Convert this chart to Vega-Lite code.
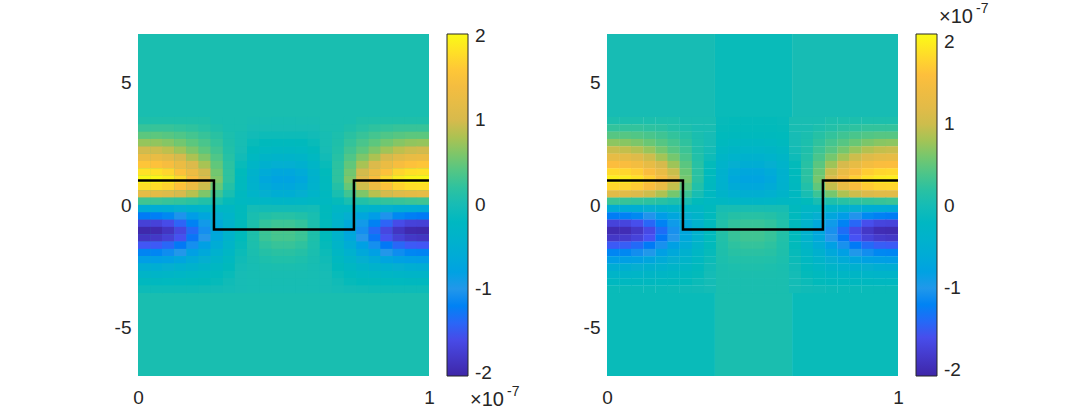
{"$schema":"https://vega.github.io/schema/vega-lite/v6.json","padding":{"left":114,"top":2,"right":0,"bottom":0},"background":"white","spacing":178,"bounds":"flush","resolve":{"scale":{"color":"independent"}},"config":{"view":{"stroke":null},"axis":{"labelFont":"Liberation Sans","labelFontSize":19,"labelColor":"#262626","grid":false,"domain":false,"ticks":false,"title":null,"labelFlush":false},"legend":{"labelFont":"Liberation Sans","labelFontSize":19,"labelColor":"#262626"},"text":{"font":"Liberation Sans","color":"#262626"}},"datasets":{"field":[
{"x":0.021,"y":3.45,"v":0.1},{"x":0.063,"y":3.45,"v":0.1},{"x":0.104,"y":3.45,"v":0.1},{"x":0.146,"y":3.45,"v":0.1},{"x":0.188,"y":3.45,"v":0.1},{"x":0.229,"y":3.45,"v":0.1},{"x":0.271,"y":3.45,"v":0.05},{"x":0.313,"y":3.45,"v":0.05},{"x":0.354,"y":3.45,"v":0.05},{"x":0.396,"y":3.45,"v":0.03},{"x":0.438,"y":3.45,"v":0.03},{"x":0.479,"y":3.45,"v":0.02},{"x":0.521,"y":3.45,"v":0.02},{"x":0.563,"y":3.45,"v":0.03},{"x":0.604,"y":3.45,"v":0.03},{"x":0.646,"y":3.45,"v":0.05},{"x":0.688,"y":3.45,"v":0.05},{"x":0.729,"y":3.45,"v":0.05},{"x":0.771,"y":3.45,"v":0.1},{"x":0.813,"y":3.45,"v":0.1},{"x":0.854,"y":3.45,"v":0.1},{"x":0.896,"y":3.45,"v":0.1},{"x":0.938,"y":3.45,"v":0.1},{"x":0.979,"y":3.45,"v":0.1},
{"x":0.021,"y":3.15,"v":0.25},{"x":0.063,"y":3.15,"v":0.25},{"x":0.104,"y":3.15,"v":0.25},{"x":0.146,"y":3.15,"v":0.22},{"x":0.188,"y":3.15,"v":0.2},{"x":0.229,"y":3.15,"v":0.15},{"x":0.271,"y":3.15,"v":0.1},{"x":0.313,"y":3.15,"v":0.05},{"x":0.354,"y":3.15,"v":0.05},{"x":0.396,"y":3.15,"v":0},{"x":0.438,"y":3.15,"v":0},{"x":0.479,"y":3.15,"v":0},{"x":0.521,"y":3.15,"v":0},{"x":0.563,"y":3.15,"v":0},{"x":0.604,"y":3.15,"v":0},{"x":0.646,"y":3.15,"v":0.05},{"x":0.688,"y":3.15,"v":0.05},{"x":0.729,"y":3.15,"v":0.1},{"x":0.771,"y":3.15,"v":0.15},{"x":0.813,"y":3.15,"v":0.2},{"x":0.854,"y":3.15,"v":0.22},{"x":0.896,"y":3.15,"v":0.25},{"x":0.938,"y":3.15,"v":0.25},{"x":0.979,"y":3.15,"v":0.25},
{"x":0.021,"y":2.85,"v":0.45},{"x":0.063,"y":2.85,"v":0.45},{"x":0.104,"y":2.85,"v":0.42},{"x":0.146,"y":2.85,"v":0.38},{"x":0.188,"y":2.85,"v":0.32},{"x":0.229,"y":2.85,"v":0.25},{"x":0.271,"y":2.85,"v":0.17},{"x":0.313,"y":2.85,"v":0.08},{"x":0.354,"y":2.85,"v":0.02},{"x":0.396,"y":2.85,"v":-0.03},{"x":0.438,"y":2.85,"v":-0.05},{"x":0.479,"y":2.85,"v":-0.05},{"x":0.521,"y":2.85,"v":-0.05},{"x":0.563,"y":2.85,"v":-0.05},{"x":0.604,"y":2.85,"v":-0.03},{"x":0.646,"y":2.85,"v":0.02},{"x":0.688,"y":2.85,"v":0.08},{"x":0.729,"y":2.85,"v":0.17},{"x":0.771,"y":2.85,"v":0.25},{"x":0.813,"y":2.85,"v":0.32},{"x":0.854,"y":2.85,"v":0.38},{"x":0.896,"y":2.85,"v":0.42},{"x":0.938,"y":2.85,"v":0.45},{"x":0.979,"y":2.85,"v":0.45},
{"x":0.021,"y":2.55,"v":0.7},{"x":0.063,"y":2.55,"v":0.68},{"x":0.104,"y":2.55,"v":0.63},{"x":0.146,"y":2.55,"v":0.55},{"x":0.188,"y":2.55,"v":0.45},{"x":0.229,"y":2.55,"v":0.35},{"x":0.271,"y":2.55,"v":0.23},{"x":0.313,"y":2.55,"v":0.1},{"x":0.354,"y":2.55,"v":0.02},{"x":0.396,"y":2.55,"v":-0.07},{"x":0.438,"y":2.55,"v":-0.12},{"x":0.479,"y":2.55,"v":-0.13},{"x":0.521,"y":2.55,"v":-0.13},{"x":0.563,"y":2.55,"v":-0.12},{"x":0.604,"y":2.55,"v":-0.07},{"x":0.646,"y":2.55,"v":0.02},{"x":0.688,"y":2.55,"v":0.1},{"x":0.729,"y":2.55,"v":0.23},{"x":0.771,"y":2.55,"v":0.35},{"x":0.813,"y":2.55,"v":0.45},{"x":0.854,"y":2.55,"v":0.55},{"x":0.896,"y":2.55,"v":0.63},{"x":0.938,"y":2.55,"v":0.68},{"x":0.979,"y":2.55,"v":0.7},
{"x":0.021,"y":2.25,"v":0.98},{"x":0.063,"y":2.25,"v":0.95},{"x":0.104,"y":2.25,"v":0.88},{"x":0.146,"y":2.25,"v":0.75},{"x":0.188,"y":2.25,"v":0.6},{"x":0.229,"y":2.25,"v":0.45},{"x":0.271,"y":2.25,"v":0.3},{"x":0.313,"y":2.25,"v":0.12},{"x":0.354,"y":2.25,"v":0},{"x":0.396,"y":2.25,"v":-0.12},{"x":0.438,"y":2.25,"v":-0.2},{"x":0.479,"y":2.25,"v":-0.22},{"x":0.521,"y":2.25,"v":-0.22},{"x":0.563,"y":2.25,"v":-0.2},{"x":0.604,"y":2.25,"v":-0.12},{"x":0.646,"y":2.25,"v":0},{"x":0.688,"y":2.25,"v":0.12},{"x":0.729,"y":2.25,"v":0.3},{"x":0.771,"y":2.25,"v":0.45},{"x":0.813,"y":2.25,"v":0.6},{"x":0.854,"y":2.25,"v":0.75},{"x":0.896,"y":2.25,"v":0.88},{"x":0.938,"y":2.25,"v":0.95},{"x":0.979,"y":2.25,"v":0.98},
{"x":0.021,"y":1.95,"v":1.28},{"x":0.063,"y":1.95,"v":1.25},{"x":0.104,"y":1.95,"v":1.15},{"x":0.146,"y":1.95,"v":1},{"x":0.188,"y":1.95,"v":0.8},{"x":0.229,"y":1.95,"v":0.6},{"x":0.271,"y":1.95,"v":0.38},{"x":0.313,"y":1.95,"v":0.15},{"x":0.354,"y":1.95,"v":-0.03},{"x":0.396,"y":1.95,"v":-0.2},{"x":0.438,"y":1.95,"v":-0.32},{"x":0.479,"y":1.95,"v":-0.36},{"x":0.521,"y":1.95,"v":-0.36},{"x":0.563,"y":1.95,"v":-0.32},{"x":0.604,"y":1.95,"v":-0.2},{"x":0.646,"y":1.95,"v":-0.03},{"x":0.688,"y":1.95,"v":0.15},{"x":0.729,"y":1.95,"v":0.38},{"x":0.771,"y":1.95,"v":0.6},{"x":0.813,"y":1.95,"v":0.8},{"x":0.854,"y":1.95,"v":1},{"x":0.896,"y":1.95,"v":1.15},{"x":0.938,"y":1.95,"v":1.25},{"x":0.979,"y":1.95,"v":1.28},
{"x":0.021,"y":1.65,"v":1.58},{"x":0.063,"y":1.65,"v":1.55},{"x":0.104,"y":1.65,"v":1.45},{"x":0.146,"y":1.65,"v":1.28},{"x":0.188,"y":1.65,"v":1.05},{"x":0.229,"y":1.65,"v":0.78},{"x":0.271,"y":1.65,"v":0.47},{"x":0.313,"y":1.65,"v":0.18},{"x":0.354,"y":1.65,"v":-0.07},{"x":0.396,"y":1.65,"v":-0.3},{"x":0.438,"y":1.65,"v":-0.47},{"x":0.479,"y":1.65,"v":-0.52},{"x":0.521,"y":1.65,"v":-0.52},{"x":0.563,"y":1.65,"v":-0.47},{"x":0.604,"y":1.65,"v":-0.3},{"x":0.646,"y":1.65,"v":-0.07},{"x":0.688,"y":1.65,"v":0.18},{"x":0.729,"y":1.65,"v":0.47},{"x":0.771,"y":1.65,"v":0.78},{"x":0.813,"y":1.65,"v":1.05},{"x":0.854,"y":1.65,"v":1.28},{"x":0.896,"y":1.65,"v":1.45},{"x":0.938,"y":1.65,"v":1.55},{"x":0.979,"y":1.65,"v":1.58},
{"x":0.021,"y":1.35,"v":1.82},{"x":0.063,"y":1.35,"v":1.8},{"x":0.104,"y":1.35,"v":1.72},{"x":0.146,"y":1.35,"v":1.55},{"x":0.188,"y":1.35,"v":1.3},{"x":0.229,"y":1.35,"v":0.98},{"x":0.271,"y":1.35,"v":0.55},{"x":0.313,"y":1.35,"v":0.2},{"x":0.354,"y":1.35,"v":-0.1},{"x":0.396,"y":1.35,"v":-0.4},{"x":0.438,"y":1.35,"v":-0.62},{"x":0.479,"y":1.35,"v":-0.7},{"x":0.521,"y":1.35,"v":-0.7},{"x":0.563,"y":1.35,"v":-0.62},{"x":0.604,"y":1.35,"v":-0.4},{"x":0.646,"y":1.35,"v":-0.1},{"x":0.688,"y":1.35,"v":0.2},{"x":0.729,"y":1.35,"v":0.55},{"x":0.771,"y":1.35,"v":0.98},{"x":0.813,"y":1.35,"v":1.3},{"x":0.854,"y":1.35,"v":1.55},{"x":0.896,"y":1.35,"v":1.72},{"x":0.938,"y":1.35,"v":1.8},{"x":0.979,"y":1.35,"v":1.82},
{"x":0.021,"y":1.05,"v":2},{"x":0.063,"y":1.05,"v":1.98},{"x":0.104,"y":1.05,"v":1.9},{"x":0.146,"y":1.05,"v":1.75},{"x":0.188,"y":1.05,"v":1.5},{"x":0.229,"y":1.05,"v":1.12},{"x":0.271,"y":1.05,"v":0.6},{"x":0.313,"y":1.05,"v":0.2},{"x":0.354,"y":1.05,"v":-0.14},{"x":0.396,"y":1.05,"v":-0.45},{"x":0.438,"y":1.05,"v":-0.7},{"x":0.479,"y":1.05,"v":-0.78},{"x":0.521,"y":1.05,"v":-0.78},{"x":0.563,"y":1.05,"v":-0.7},{"x":0.604,"y":1.05,"v":-0.45},{"x":0.646,"y":1.05,"v":-0.14},{"x":0.688,"y":1.05,"v":0.2},{"x":0.729,"y":1.05,"v":0.6},{"x":0.771,"y":1.05,"v":1.12},{"x":0.813,"y":1.05,"v":1.5},{"x":0.854,"y":1.05,"v":1.75},{"x":0.896,"y":1.05,"v":1.9},{"x":0.938,"y":1.05,"v":1.98},{"x":0.979,"y":1.05,"v":2},
{"x":0.021,"y":0.75,"v":1.8},{"x":0.063,"y":0.75,"v":1.78},{"x":0.104,"y":0.75,"v":1.7},{"x":0.146,"y":0.75,"v":1.55},{"x":0.188,"y":0.75,"v":1.3},{"x":0.229,"y":0.75,"v":0.95},{"x":0.271,"y":0.75,"v":0.5},{"x":0.313,"y":0.75,"v":0.14},{"x":0.354,"y":0.75,"v":-0.15},{"x":0.396,"y":0.75,"v":-0.42},{"x":0.438,"y":0.75,"v":-0.62},{"x":0.479,"y":0.75,"v":-0.7},{"x":0.521,"y":0.75,"v":-0.7},{"x":0.563,"y":0.75,"v":-0.62},{"x":0.604,"y":0.75,"v":-0.42},{"x":0.646,"y":0.75,"v":-0.15},{"x":0.688,"y":0.75,"v":0.14},{"x":0.729,"y":0.75,"v":0.5},{"x":0.771,"y":0.75,"v":0.95},{"x":0.813,"y":0.75,"v":1.3},{"x":0.854,"y":0.75,"v":1.55},{"x":0.896,"y":0.75,"v":1.7},{"x":0.938,"y":0.75,"v":1.78},{"x":0.979,"y":0.75,"v":1.8},
{"x":0.021,"y":0.45,"v":1.2},{"x":0.063,"y":0.45,"v":1.18},{"x":0.104,"y":0.45,"v":1.1},{"x":0.146,"y":0.45,"v":1},{"x":0.188,"y":0.45,"v":0.85},{"x":0.229,"y":0.45,"v":0.6},{"x":0.271,"y":0.45,"v":0.3},{"x":0.313,"y":0.45,"v":0.05},{"x":0.354,"y":0.45,"v":-0.17},{"x":0.396,"y":0.45,"v":-0.35},{"x":0.438,"y":0.45,"v":-0.5},{"x":0.479,"y":0.45,"v":-0.55},{"x":0.521,"y":0.45,"v":-0.55},{"x":0.563,"y":0.45,"v":-0.5},{"x":0.604,"y":0.45,"v":-0.35},{"x":0.646,"y":0.45,"v":-0.17},{"x":0.688,"y":0.45,"v":0.05},{"x":0.729,"y":0.45,"v":0.3},{"x":0.771,"y":0.45,"v":0.6},{"x":0.813,"y":0.45,"v":0.85},{"x":0.854,"y":0.45,"v":1},{"x":0.896,"y":0.45,"v":1.1},{"x":0.938,"y":0.45,"v":1.18},{"x":0.979,"y":0.45,"v":1.2},
{"x":0.021,"y":0.15,"v":0.3},{"x":0.063,"y":0.15,"v":0.28},{"x":0.104,"y":0.15,"v":0.25},{"x":0.146,"y":0.15,"v":0.22},{"x":0.188,"y":0.15,"v":0.18},{"x":0.229,"y":0.15,"v":0.12},{"x":0.271,"y":0.15,"v":0.05},{"x":0.313,"y":0.15,"v":-0.08},{"x":0.354,"y":0.15,"v":-0.18},{"x":0.396,"y":0.15,"v":-0.22},{"x":0.438,"y":0.15,"v":-0.28},{"x":0.479,"y":0.15,"v":-0.3},{"x":0.521,"y":0.15,"v":-0.3},{"x":0.563,"y":0.15,"v":-0.28},{"x":0.604,"y":0.15,"v":-0.22},{"x":0.646,"y":0.15,"v":-0.18},{"x":0.688,"y":0.15,"v":-0.08},{"x":0.729,"y":0.15,"v":0.05},{"x":0.771,"y":0.15,"v":0.12},{"x":0.813,"y":0.15,"v":0.18},{"x":0.854,"y":0.15,"v":0.22},{"x":0.896,"y":0.15,"v":0.25},{"x":0.938,"y":0.15,"v":0.28},{"x":0.979,"y":0.15,"v":0.3},
{"x":0.021,"y":-0.15,"v":-0.6},{"x":0.063,"y":-0.15,"v":-0.58},{"x":0.104,"y":-0.15,"v":-0.55},{"x":0.146,"y":-0.15,"v":-0.5},{"x":0.188,"y":-0.15,"v":-0.42},{"x":0.229,"y":-0.15,"v":-0.35},{"x":0.271,"y":-0.15,"v":-0.25},{"x":0.313,"y":-0.15,"v":-0.25},{"x":0.354,"y":-0.15,"v":-0.12},{"x":0.396,"y":-0.15,"v":-0.02},{"x":0.438,"y":-0.15,"v":-0.03},{"x":0.479,"y":-0.15,"v":-0.03},{"x":0.521,"y":-0.15,"v":-0.03},{"x":0.563,"y":-0.15,"v":-0.03},{"x":0.604,"y":-0.15,"v":-0.02},{"x":0.646,"y":-0.15,"v":-0.12},{"x":0.688,"y":-0.15,"v":-0.25},{"x":0.729,"y":-0.15,"v":-0.25},{"x":0.771,"y":-0.15,"v":-0.35},{"x":0.813,"y":-0.15,"v":-0.42},{"x":0.854,"y":-0.15,"v":-0.5},{"x":0.896,"y":-0.15,"v":-0.55},{"x":0.938,"y":-0.15,"v":-0.58},{"x":0.979,"y":-0.15,"v":-0.6},
{"x":0.021,"y":-0.45,"v":-1.25},{"x":0.063,"y":-0.45,"v":-1.22},{"x":0.104,"y":-0.45,"v":-1.15},{"x":0.146,"y":-0.45,"v":-1.05},{"x":0.188,"y":-0.45,"v":-0.9},{"x":0.229,"y":-0.45,"v":-0.72},{"x":0.271,"y":-0.45,"v":-0.5},{"x":0.313,"y":-0.45,"v":-0.35},{"x":0.354,"y":-0.45,"v":-0.12},{"x":0.396,"y":-0.45,"v":0.05},{"x":0.438,"y":-0.45,"v":0.12},{"x":0.479,"y":-0.45,"v":0.15},{"x":0.521,"y":-0.45,"v":0.15},{"x":0.563,"y":-0.45,"v":0.12},{"x":0.604,"y":-0.45,"v":0.05},{"x":0.646,"y":-0.45,"v":-0.12},{"x":0.688,"y":-0.45,"v":-0.35},{"x":0.729,"y":-0.45,"v":-0.5},{"x":0.771,"y":-0.45,"v":-0.72},{"x":0.813,"y":-0.45,"v":-0.9},{"x":0.854,"y":-0.45,"v":-1.05},{"x":0.896,"y":-0.45,"v":-1.15},{"x":0.938,"y":-0.45,"v":-1.22},{"x":0.979,"y":-0.45,"v":-1.25},
{"x":0.021,"y":-0.75,"v":-1.72},{"x":0.063,"y":-0.75,"v":-1.7},{"x":0.104,"y":-0.75,"v":-1.6},{"x":0.146,"y":-0.75,"v":-1.42},{"x":0.188,"y":-0.75,"v":-1.2},{"x":0.229,"y":-0.75,"v":-0.95},{"x":0.271,"y":-0.75,"v":-0.65},{"x":0.313,"y":-0.75,"v":-0.4},{"x":0.354,"y":-0.75,"v":-0.12},{"x":0.396,"y":-0.75,"v":0.08},{"x":0.438,"y":-0.75,"v":0.22},{"x":0.479,"y":-0.75,"v":0.28},{"x":0.521,"y":-0.75,"v":0.28},{"x":0.563,"y":-0.75,"v":0.22},{"x":0.604,"y":-0.75,"v":0.08},{"x":0.646,"y":-0.75,"v":-0.12},{"x":0.688,"y":-0.75,"v":-0.4},{"x":0.729,"y":-0.75,"v":-0.65},{"x":0.771,"y":-0.75,"v":-0.95},{"x":0.813,"y":-0.75,"v":-1.2},{"x":0.854,"y":-0.75,"v":-1.42},{"x":0.896,"y":-0.75,"v":-1.6},{"x":0.938,"y":-0.75,"v":-1.7},{"x":0.979,"y":-0.75,"v":-1.72},
{"x":0.021,"y":-1.05,"v":-2},{"x":0.063,"y":-1.05,"v":-1.98},{"x":0.104,"y":-1.05,"v":-1.85},{"x":0.146,"y":-1.05,"v":-1.65},{"x":0.188,"y":-1.05,"v":-1.38},{"x":0.229,"y":-1.05,"v":-1.08},{"x":0.271,"y":-1.05,"v":-0.72},{"x":0.313,"y":-1.05,"v":-0.42},{"x":0.354,"y":-1.05,"v":-0.12},{"x":0.396,"y":-1.05,"v":0.1},{"x":0.438,"y":-1.05,"v":0.28},{"x":0.479,"y":-1.05,"v":0.35},{"x":0.521,"y":-1.05,"v":0.35},{"x":0.563,"y":-1.05,"v":0.28},{"x":0.604,"y":-1.05,"v":0.1},{"x":0.646,"y":-1.05,"v":-0.12},{"x":0.688,"y":-1.05,"v":-0.42},{"x":0.729,"y":-1.05,"v":-0.72},{"x":0.771,"y":-1.05,"v":-1.08},{"x":0.813,"y":-1.05,"v":-1.38},{"x":0.854,"y":-1.05,"v":-1.65},{"x":0.896,"y":-1.05,"v":-1.85},{"x":0.938,"y":-1.05,"v":-1.98},{"x":0.979,"y":-1.05,"v":-2},
{"x":0.021,"y":-1.35,"v":-1.85},{"x":0.063,"y":-1.35,"v":-1.82},{"x":0.104,"y":-1.35,"v":-1.72},{"x":0.146,"y":-1.35,"v":-1.55},{"x":0.188,"y":-1.35,"v":-1.3},{"x":0.229,"y":-1.35,"v":-1.02},{"x":0.271,"y":-1.35,"v":-0.68},{"x":0.313,"y":-1.35,"v":-0.4},{"x":0.354,"y":-1.35,"v":-0.1},{"x":0.396,"y":-1.35,"v":0.1},{"x":0.438,"y":-1.35,"v":0.27},{"x":0.479,"y":-1.35,"v":0.33},{"x":0.521,"y":-1.35,"v":0.33},{"x":0.563,"y":-1.35,"v":0.27},{"x":0.604,"y":-1.35,"v":0.1},{"x":0.646,"y":-1.35,"v":-0.1},{"x":0.688,"y":-1.35,"v":-0.4},{"x":0.729,"y":-1.35,"v":-0.68},{"x":0.771,"y":-1.35,"v":-1.02},{"x":0.813,"y":-1.35,"v":-1.3},{"x":0.854,"y":-1.35,"v":-1.55},{"x":0.896,"y":-1.35,"v":-1.72},{"x":0.938,"y":-1.35,"v":-1.82},{"x":0.979,"y":-1.35,"v":-1.85},
{"x":0.021,"y":-1.65,"v":-1.5},{"x":0.063,"y":-1.65,"v":-1.48},{"x":0.104,"y":-1.65,"v":-1.4},{"x":0.146,"y":-1.65,"v":-1.28},{"x":0.188,"y":-1.65,"v":-1.08},{"x":0.229,"y":-1.65,"v":-0.85},{"x":0.271,"y":-1.65,"v":-0.58},{"x":0.313,"y":-1.65,"v":-0.33},{"x":0.354,"y":-1.65,"v":-0.08},{"x":0.396,"y":-1.65,"v":0.08},{"x":0.438,"y":-1.65,"v":0.2},{"x":0.479,"y":-1.65,"v":0.25},{"x":0.521,"y":-1.65,"v":0.25},{"x":0.563,"y":-1.65,"v":0.2},{"x":0.604,"y":-1.65,"v":0.08},{"x":0.646,"y":-1.65,"v":-0.08},{"x":0.688,"y":-1.65,"v":-0.33},{"x":0.729,"y":-1.65,"v":-0.58},{"x":0.771,"y":-1.65,"v":-0.85},{"x":0.813,"y":-1.65,"v":-1.08},{"x":0.854,"y":-1.65,"v":-1.28},{"x":0.896,"y":-1.65,"v":-1.4},{"x":0.938,"y":-1.65,"v":-1.48},{"x":0.979,"y":-1.65,"v":-1.5},
{"x":0.021,"y":-1.95,"v":-1.18},{"x":0.063,"y":-1.95,"v":-1.16},{"x":0.104,"y":-1.95,"v":-1.1},{"x":0.146,"y":-1.95,"v":-1},{"x":0.188,"y":-1.95,"v":-0.85},{"x":0.229,"y":-1.95,"v":-0.67},{"x":0.271,"y":-1.95,"v":-0.46},{"x":0.313,"y":-1.95,"v":-0.25},{"x":0.354,"y":-1.95,"v":-0.06},{"x":0.396,"y":-1.95,"v":0.06},{"x":0.438,"y":-1.95,"v":0.14},{"x":0.479,"y":-1.95,"v":0.17},{"x":0.521,"y":-1.95,"v":0.17},{"x":0.563,"y":-1.95,"v":0.14},{"x":0.604,"y":-1.95,"v":0.06},{"x":0.646,"y":-1.95,"v":-0.06},{"x":0.688,"y":-1.95,"v":-0.25},{"x":0.729,"y":-1.95,"v":-0.46},{"x":0.771,"y":-1.95,"v":-0.67},{"x":0.813,"y":-1.95,"v":-0.85},{"x":0.854,"y":-1.95,"v":-1},{"x":0.896,"y":-1.95,"v":-1.1},{"x":0.938,"y":-1.95,"v":-1.16},{"x":0.979,"y":-1.95,"v":-1.18},
{"x":0.021,"y":-2.25,"v":-0.88},{"x":0.063,"y":-2.25,"v":-0.86},{"x":0.104,"y":-2.25,"v":-0.82},{"x":0.146,"y":-2.25,"v":-0.74},{"x":0.188,"y":-2.25,"v":-0.62},{"x":0.229,"y":-2.25,"v":-0.5},{"x":0.271,"y":-2.25,"v":-0.34},{"x":0.313,"y":-2.25,"v":-0.18},{"x":0.354,"y":-2.25,"v":-0.04},{"x":0.396,"y":-2.25,"v":0.04},{"x":0.438,"y":-2.25,"v":0.09},{"x":0.479,"y":-2.25,"v":0.11},{"x":0.521,"y":-2.25,"v":0.11},{"x":0.563,"y":-2.25,"v":0.09},{"x":0.604,"y":-2.25,"v":0.04},{"x":0.646,"y":-2.25,"v":-0.04},{"x":0.688,"y":-2.25,"v":-0.18},{"x":0.729,"y":-2.25,"v":-0.34},{"x":0.771,"y":-2.25,"v":-0.5},{"x":0.813,"y":-2.25,"v":-0.62},{"x":0.854,"y":-2.25,"v":-0.74},{"x":0.896,"y":-2.25,"v":-0.82},{"x":0.938,"y":-2.25,"v":-0.86},{"x":0.979,"y":-2.25,"v":-0.88},
{"x":0.021,"y":-2.55,"v":-0.55},{"x":0.063,"y":-2.55,"v":-0.54},{"x":0.104,"y":-2.55,"v":-0.5},{"x":0.146,"y":-2.55,"v":-0.46},{"x":0.188,"y":-2.55,"v":-0.4},{"x":0.229,"y":-2.55,"v":-0.32},{"x":0.271,"y":-2.55,"v":-0.22},{"x":0.313,"y":-2.55,"v":-0.12},{"x":0.354,"y":-2.55,"v":-0.02},{"x":0.396,"y":-2.55,"v":0.02},{"x":0.438,"y":-2.55,"v":0.05},{"x":0.479,"y":-2.55,"v":0.06},{"x":0.521,"y":-2.55,"v":0.06},{"x":0.563,"y":-2.55,"v":0.05},{"x":0.604,"y":-2.55,"v":0.02},{"x":0.646,"y":-2.55,"v":-0.02},{"x":0.688,"y":-2.55,"v":-0.12},{"x":0.729,"y":-2.55,"v":-0.22},{"x":0.771,"y":-2.55,"v":-0.32},{"x":0.813,"y":-2.55,"v":-0.4},{"x":0.854,"y":-2.55,"v":-0.46},{"x":0.896,"y":-2.55,"v":-0.5},{"x":0.938,"y":-2.55,"v":-0.54},{"x":0.979,"y":-2.55,"v":-0.55},
{"x":0.021,"y":-2.85,"v":-0.32},{"x":0.063,"y":-2.85,"v":-0.32},{"x":0.104,"y":-2.85,"v":-0.3},{"x":0.146,"y":-2.85,"v":-0.27},{"x":0.188,"y":-2.85,"v":-0.24},{"x":0.229,"y":-2.85,"v":-0.2},{"x":0.271,"y":-2.85,"v":-0.14},{"x":0.313,"y":-2.85,"v":-0.07},{"x":0.354,"y":-2.85,"v":0},{"x":0.396,"y":-2.85,"v":0.02},{"x":0.438,"y":-2.85,"v":0.03},{"x":0.479,"y":-2.85,"v":0.03},{"x":0.521,"y":-2.85,"v":0.03},{"x":0.563,"y":-2.85,"v":0.03},{"x":0.604,"y":-2.85,"v":0.02},{"x":0.646,"y":-2.85,"v":0},{"x":0.688,"y":-2.85,"v":-0.07},{"x":0.729,"y":-2.85,"v":-0.14},{"x":0.771,"y":-2.85,"v":-0.2},{"x":0.813,"y":-2.85,"v":-0.24},{"x":0.854,"y":-2.85,"v":-0.27},{"x":0.896,"y":-2.85,"v":-0.3},{"x":0.938,"y":-2.85,"v":-0.32},{"x":0.979,"y":-2.85,"v":-0.32},
{"x":0.021,"y":-3.15,"v":-0.17},{"x":0.063,"y":-3.15,"v":-0.17},{"x":0.104,"y":-3.15,"v":-0.16},{"x":0.146,"y":-3.15,"v":-0.15},{"x":0.188,"y":-3.15,"v":-0.14},{"x":0.229,"y":-3.15,"v":-0.12},{"x":0.271,"y":-3.15,"v":-0.08},{"x":0.313,"y":-3.15,"v":-0.04},{"x":0.354,"y":-3.15,"v":0},{"x":0.396,"y":-3.15,"v":0.01},{"x":0.438,"y":-3.15,"v":0.02},{"x":0.479,"y":-3.15,"v":0.02},{"x":0.521,"y":-3.15,"v":0.02},{"x":0.563,"y":-3.15,"v":0.02},{"x":0.604,"y":-3.15,"v":0.01},{"x":0.646,"y":-3.15,"v":0},{"x":0.688,"y":-3.15,"v":-0.04},{"x":0.729,"y":-3.15,"v":-0.08},{"x":0.771,"y":-3.15,"v":-0.12},{"x":0.813,"y":-3.15,"v":-0.14},{"x":0.854,"y":-3.15,"v":-0.15},{"x":0.896,"y":-3.15,"v":-0.16},{"x":0.938,"y":-3.15,"v":-0.17},{"x":0.979,"y":-3.15,"v":-0.17},
{"x":0.021,"y":-3.45,"v":-0.05},{"x":0.063,"y":-3.45,"v":-0.05},{"x":0.104,"y":-3.45,"v":-0.05},{"x":0.146,"y":-3.45,"v":-0.05},{"x":0.188,"y":-3.45,"v":-0.05},{"x":0.229,"y":-3.45,"v":-0.04},{"x":0.271,"y":-3.45,"v":-0.03},{"x":0.313,"y":-3.45,"v":-0.02},{"x":0.354,"y":-3.45,"v":0},{"x":0.396,"y":-3.45,"v":0.01},{"x":0.438,"y":-3.45,"v":0.01},{"x":0.479,"y":-3.45,"v":0.01},{"x":0.521,"y":-3.45,"v":0.01},{"x":0.563,"y":-3.45,"v":0.01},{"x":0.604,"y":-3.45,"v":0.01},{"x":0.646,"y":-3.45,"v":0},{"x":0.688,"y":-3.45,"v":-0.02},{"x":0.729,"y":-3.45,"v":-0.03},{"x":0.771,"y":-3.45,"v":-0.04},{"x":0.813,"y":-3.45,"v":-0.05},{"x":0.854,"y":-3.45,"v":-0.05},{"x":0.896,"y":-3.45,"v":-0.05},{"x":0.938,"y":-3.45,"v":-0.05},{"x":0.979,"y":-3.45,"v":-0.05}
],"band":[
{"x":0.396,"y":3.45,"v":-0.06},{"x":0.438,"y":3.45,"v":-0.07},{"x":0.479,"y":3.45,"v":-0.07},{"x":0.521,"y":3.45,"v":-0.07},{"x":0.563,"y":3.45,"v":-0.07},{"x":0.604,"y":3.45,"v":-0.06},
{"x":0.396,"y":3.15,"v":-0.07},{"x":0.438,"y":3.15,"v":-0.08},{"x":0.479,"y":3.15,"v":-0.08},{"x":0.521,"y":3.15,"v":-0.08},{"x":0.563,"y":3.15,"v":-0.08},{"x":0.604,"y":3.15,"v":-0.07},
{"x":0.396,"y":2.85,"v":-0.1},{"x":0.438,"y":2.85,"v":-0.12},{"x":0.479,"y":2.85,"v":-0.12},{"x":0.521,"y":2.85,"v":-0.12},{"x":0.563,"y":2.85,"v":-0.12},{"x":0.604,"y":2.85,"v":-0.1},
{"x":0.396,"y":2.55,"v":-0.14},{"x":0.438,"y":2.55,"v":-0.18},{"x":0.479,"y":2.55,"v":-0.2},{"x":0.521,"y":2.55,"v":-0.2},{"x":0.563,"y":2.55,"v":-0.18},{"x":0.604,"y":2.55,"v":-0.14},
{"x":0.396,"y":2.25,"v":-0.2},{"x":0.438,"y":2.25,"v":-0.27},{"x":0.479,"y":2.25,"v":-0.3},{"x":0.521,"y":2.25,"v":-0.3},{"x":0.563,"y":2.25,"v":-0.27},{"x":0.604,"y":2.25,"v":-0.2},
{"x":0.396,"y":1.95,"v":-0.28},{"x":0.438,"y":1.95,"v":-0.38},{"x":0.479,"y":1.95,"v":-0.42},{"x":0.521,"y":1.95,"v":-0.42},{"x":0.563,"y":1.95,"v":-0.38},{"x":0.604,"y":1.95,"v":-0.28},
{"x":0.396,"y":1.65,"v":-0.36},{"x":0.438,"y":1.65,"v":-0.5},{"x":0.479,"y":1.65,"v":-0.55},{"x":0.521,"y":1.65,"v":-0.55},{"x":0.563,"y":1.65,"v":-0.5},{"x":0.604,"y":1.65,"v":-0.36},
{"x":0.396,"y":1.35,"v":-0.42},{"x":0.438,"y":1.35,"v":-0.62},{"x":0.479,"y":1.35,"v":-0.7},{"x":0.521,"y":1.35,"v":-0.7},{"x":0.563,"y":1.35,"v":-0.62},{"x":0.604,"y":1.35,"v":-0.42},
{"x":0.396,"y":1.05,"v":-0.45},{"x":0.438,"y":1.05,"v":-0.68},{"x":0.479,"y":1.05,"v":-0.76},{"x":0.521,"y":1.05,"v":-0.76},{"x":0.563,"y":1.05,"v":-0.68},{"x":0.604,"y":1.05,"v":-0.45},
{"x":0.396,"y":0.75,"v":-0.42},{"x":0.438,"y":0.75,"v":-0.6},{"x":0.479,"y":0.75,"v":-0.68},{"x":0.521,"y":0.75,"v":-0.68},{"x":0.563,"y":0.75,"v":-0.6},{"x":0.604,"y":0.75,"v":-0.42},
{"x":0.396,"y":0.45,"v":-0.35},{"x":0.438,"y":0.45,"v":-0.48},{"x":0.479,"y":0.45,"v":-0.52},{"x":0.521,"y":0.45,"v":-0.52},{"x":0.563,"y":0.45,"v":-0.48},{"x":0.604,"y":0.45,"v":-0.35},
{"x":0.396,"y":0.15,"v":-0.2},{"x":0.438,"y":0.15,"v":-0.26},{"x":0.479,"y":0.15,"v":-0.28},{"x":0.521,"y":0.15,"v":-0.28},{"x":0.563,"y":0.15,"v":-0.26},{"x":0.604,"y":0.15,"v":-0.2},
{"x":0.396,"y":-0.15,"v":0.04},{"x":0.438,"y":-0.15,"v":0.04},{"x":0.479,"y":-0.15,"v":0.05},{"x":0.521,"y":-0.15,"v":0.05},{"x":0.563,"y":-0.15,"v":0.04},{"x":0.604,"y":-0.15,"v":0.04},
{"x":0.396,"y":-0.45,"v":0.1},{"x":0.438,"y":-0.45,"v":0.16},{"x":0.479,"y":-0.45,"v":0.18},{"x":0.521,"y":-0.45,"v":0.18},{"x":0.563,"y":-0.45,"v":0.16},{"x":0.604,"y":-0.45,"v":0.1},
{"x":0.396,"y":-0.75,"v":0.14},{"x":0.438,"y":-0.75,"v":0.24},{"x":0.479,"y":-0.75,"v":0.28},{"x":0.521,"y":-0.75,"v":0.28},{"x":0.563,"y":-0.75,"v":0.24},{"x":0.604,"y":-0.75,"v":0.14},
{"x":0.396,"y":-1.05,"v":0.16},{"x":0.438,"y":-1.05,"v":0.28},{"x":0.479,"y":-1.05,"v":0.33},{"x":0.521,"y":-1.05,"v":0.33},{"x":0.563,"y":-1.05,"v":0.28},{"x":0.604,"y":-1.05,"v":0.16},
{"x":0.396,"y":-1.35,"v":0.15},{"x":0.438,"y":-1.35,"v":0.27},{"x":0.479,"y":-1.35,"v":0.32},{"x":0.521,"y":-1.35,"v":0.32},{"x":0.563,"y":-1.35,"v":0.27},{"x":0.604,"y":-1.35,"v":0.15},
{"x":0.396,"y":-1.65,"v":0.13},{"x":0.438,"y":-1.65,"v":0.22},{"x":0.479,"y":-1.65,"v":0.26},{"x":0.521,"y":-1.65,"v":0.26},{"x":0.563,"y":-1.65,"v":0.22},{"x":0.604,"y":-1.65,"v":0.13},
{"x":0.396,"y":-1.95,"v":0.12},{"x":0.438,"y":-1.95,"v":0.18},{"x":0.479,"y":-1.95,"v":0.2},{"x":0.521,"y":-1.95,"v":0.2},{"x":0.563,"y":-1.95,"v":0.18},{"x":0.604,"y":-1.95,"v":0.12},
{"x":0.396,"y":-2.25,"v":0.1},{"x":0.438,"y":-2.25,"v":0.14},{"x":0.479,"y":-2.25,"v":0.15},{"x":0.521,"y":-2.25,"v":0.15},{"x":0.563,"y":-2.25,"v":0.14},{"x":0.604,"y":-2.25,"v":0.1},
{"x":0.396,"y":-2.55,"v":0.08},{"x":0.438,"y":-2.55,"v":0.1},{"x":0.479,"y":-2.55,"v":0.12},{"x":0.521,"y":-2.55,"v":0.12},{"x":0.563,"y":-2.55,"v":0.1},{"x":0.604,"y":-2.55,"v":0.08},
{"x":0.396,"y":-2.85,"v":0.08},{"x":0.438,"y":-2.85,"v":0.09},{"x":0.479,"y":-2.85,"v":0.09},{"x":0.521,"y":-2.85,"v":0.09},{"x":0.563,"y":-2.85,"v":0.09},{"x":0.604,"y":-2.85,"v":0.08},
{"x":0.396,"y":-3.15,"v":0.08},{"x":0.438,"y":-3.15,"v":0.08},{"x":0.479,"y":-3.15,"v":0.08},{"x":0.521,"y":-3.15,"v":0.08},{"x":0.563,"y":-3.15,"v":0.08},{"x":0.604,"y":-3.15,"v":0.08},
{"x":0.396,"y":-3.45,"v":0.08},{"x":0.438,"y":-3.45,"v":0.08},{"x":0.479,"y":-3.45,"v":0.08},{"x":0.521,"y":-3.45,"v":0.08},{"x":0.563,"y":-3.45,"v":0.08},{"x":0.604,"y":-3.45,"v":0.08}
],"bgL":[{"a":0,"b":1,"c":-7,"d":7,"v":0.05}],"bgR":[{"a":0,"b":0.371,"c":3.6,"d":7,"v":0.03},{"a":0.371,"b":0.636,"c":3.6,"d":7,"v":-0.05},{"a":0.636,"b":1,"c":3.6,"d":7,"v":0.03},{"a":0,"b":0.371,"c":-7,"d":-3.6,"v":-0.05},{"a":0.371,"b":0.636,"c":-7,"d":-3.6,"v":0.08},{"a":0.636,"b":1,"c":-7,"d":-3.6,"v":-0.05}],"line":[{"x":0,"y":1},{"x":0.261,"y":1},{"x":0.261,"y":-1},{"x":0.742,"y":-1},{"x":0.742,"y":1},{"x":1,"y":1}]},"hconcat":[{"width":291,"height":342,"encoding":{"color":{"field":"v","type":"quantitative","scale":{"domain":[-2.03,2.02],"range":["#3e26a8","#4752f4","#2796eb","#07afd0","#17bcb5","#66c777","#d9ba4c","#fcbd3d","#f9fb15"]},"legend":{"title":null,"orient":"none","legendX":309,"legendY":0,"gradientLength":342,"gradientThickness":21,"gradientStrokeColor":"#262626","gradientStrokeWidth":1,"values":[-2,-1,0,1,2],"labelBaseline":"middle","labelOffset":7,"labelExpr":"''+datum.value"}}},"layer":[{"data":{"name":"bgL"},"mark":{"type":"rect"},"encoding":{"x":{"field":"a","type":"quantitative","scale":{"domain":[0,1],"nice":false},"axis":{"values":[0,1],"labelExpr":"''+datum.value","labelPadding":12}},"x2":{"field":"b"},"y":{"field":"c","type":"quantitative","scale":{"domain":[-7,7],"nice":false},"axis":{"values":[-5,0,5],"labelExpr":"''+datum.value","labelPadding":7}},"y2":{"field":"d"}}},{"data":{"name":"field"},"mark":{"type":"rect","width":12.5,"height":7.6,"clip":true},"encoding":{"x":{"field":"x","type":"quantitative"},"y":{"field":"y","type":"quantitative"}}},{"data":{"name":"line"},"mark":{"type":"line","strokeWidth":2.5},"encoding":{"x":{"field":"x","type":"quantitative"},"y":{"field":"y","type":"quantitative"},"color":{"value":"black"}}},{"data":{"values":[{"x":1.141,"y":-8,"t":"×10"}]},"mark":{"type":"text","align":"left","baseline":"middle","fontSize":20},"encoding":{"x":{"field":"x","type":"quantitative"},"y":{"field":"y","type":"quantitative"},"text":{"field":"t"},"color":{"value":"#262626"}}},{"data":{"values":[{"x":1.268,"y":-7.65,"t":"-7"}]},"mark":{"type":"text","align":"left","baseline":"middle","fontSize":14},"encoding":{"x":{"field":"x","type":"quantitative"},"y":{"field":"y","type":"quantitative"},"text":{"field":"t"},"color":{"value":"#262626"}}}]},{"width":291,"height":342,"encoding":{"color":{"field":"v","type":"quantitative","scale":{"domain":[-2.07,2.1],"range":["#3e26a8","#4752f4","#2796eb","#07afd0","#17bcb5","#66c777","#d9ba4c","#fcbd3d","#f9fb15"]},"legend":{"title":null,"orient":"none","legendX":309,"legendY":0,"gradientLength":342,"gradientThickness":21,"gradientStrokeColor":"#262626","gradientStrokeWidth":1,"values":[-2,-1,0,1,2],"labelBaseline":"middle","labelOffset":7,"labelExpr":"''+datum.value"}}},"layer":[{"data":{"name":"bgR"},"mark":{"type":"rect"},"encoding":{"x":{"field":"a","type":"quantitative","scale":{"domain":[0,1],"nice":false},"axis":{"values":[0,1],"labelExpr":"''+datum.value","labelPadding":12}},"x2":{"field":"b"},"y":{"field":"c","type":"quantitative","scale":{"domain":[-7,7],"nice":false},"axis":{"values":[-5,0,5],"labelExpr":"''+datum.value","labelPadding":7}},"y2":{"field":"d"}}},{"data":{"name":"field"},"mark":{"type":"rect","width":12.5,"height":7.6,"clip":true},"encoding":{"x":{"field":"x","type":"quantitative"},"y":{"field":"y","type":"quantitative"}}},{"data":{"name":"band"},"mark":{"type":"rect","width":12.5,"height":7.6,"clip":true},"encoding":{"x":{"field":"x","type":"quantitative"},"y":{"field":"y","type":"quantitative"}}},{"data":{"name":"line"},"mark":{"type":"line","strokeWidth":2.5},"encoding":{"x":{"field":"x","type":"quantitative"},"y":{"field":"y","type":"quantitative"},"color":{"value":"black"}}},{"data":{"values":[{"x":1.141,"y":7.7,"t":"×10"}]},"mark":{"type":"text","align":"left","baseline":"middle","fontSize":20},"encoding":{"x":{"field":"x","type":"quantitative"},"y":{"field":"y","type":"quantitative"},"text":{"field":"t"},"color":{"value":"#262626"}}},{"data":{"values":[{"x":1.268,"y":8.02,"t":"-7"}]},"mark":{"type":"text","align":"left","baseline":"middle","fontSize":14},"encoding":{"x":{"field":"x","type":"quantitative"},"y":{"field":"y","type":"quantitative"},"text":{"field":"t"},"color":{"value":"#262626"}}}]}]}
